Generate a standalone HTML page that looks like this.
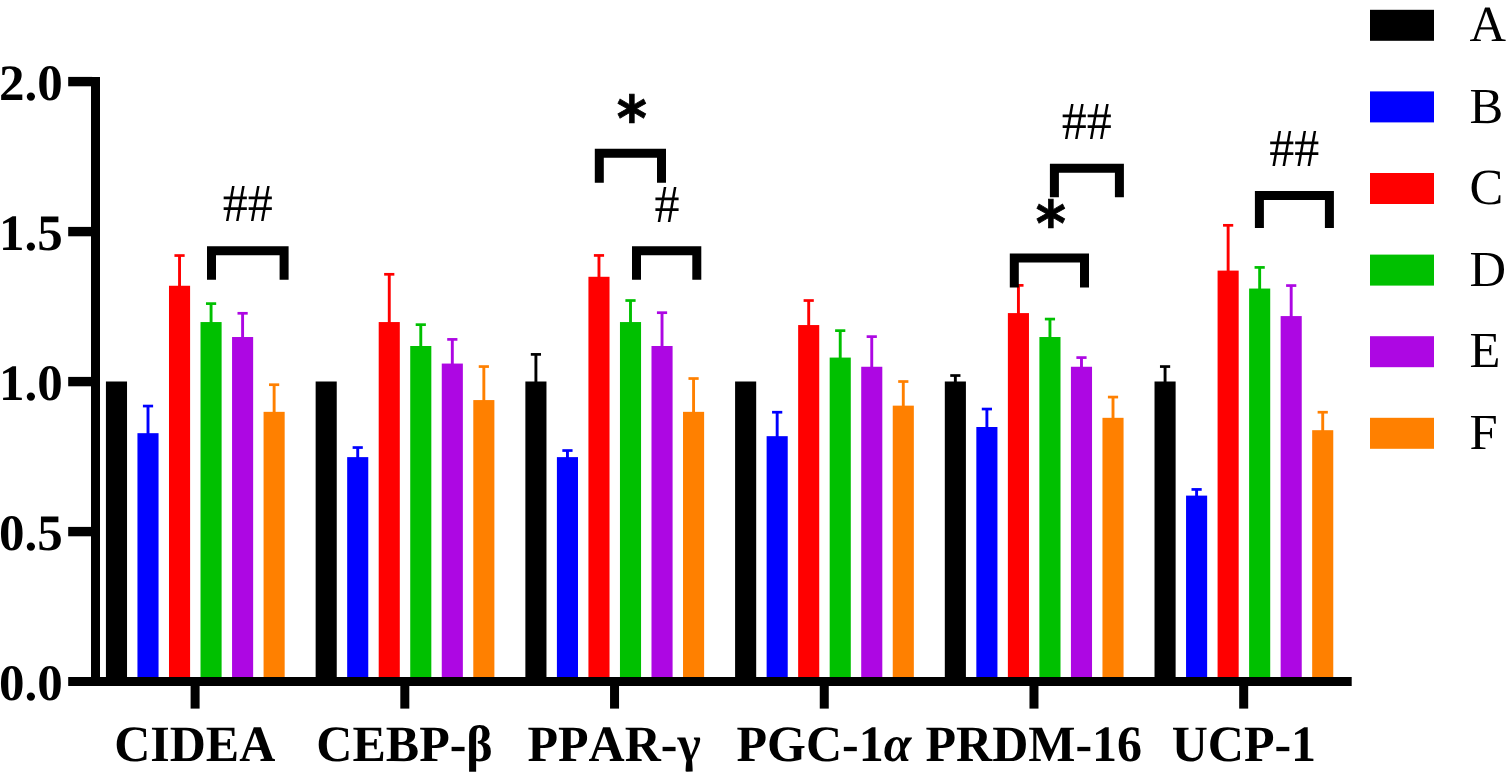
<!DOCTYPE html>
<html lang="en">
<head>
<meta charset="utf-8">
<title>Relative expression bar chart</title>
<style>
html,body{margin:0;padding:0;background:#fff;}
body{width:1506px;height:777px;overflow:hidden;}
svg{display:block;}
text{text-rendering:geometricPrecision;font-kerning:none;}
.ax{font-family:"Liberation Serif","DejaVu Serif",serif;font-weight:bold;font-size:50px;fill:#000;}
.lg{font-family:"Liberation Serif","DejaVu Serif",serif;font-weight:normal;font-size:50.6px;fill:#000;}
.hs{font-family:"Liberation Serif","DejaVu Serif",serif;font-weight:normal;font-size:50px;fill:#000;}
.st{font-family:"DejaVu Sans","Liberation Sans",sans-serif;font-weight:bold;font-size:57.6px;fill:#000;stroke:#000;stroke-width:0.76px;stroke-linejoin:miter;}
</style>
</head>
<body>
<svg width="1506" height="777" viewBox="0 0 1506 777">
<rect x="0" y="0" width="1506" height="777" fill="#ffffff"/>
<g id="bars">
<rect x="105.93" y="381.50" width="21.10" height="296.50" fill="#000000"/>
<rect x="146.56" y="406.05" width="2.90" height="28.13" fill="#0000FF"/><rect x="142.91" y="404.70" width="10.20" height="2.70" fill="#0000FF"/><rect x="137.45" y="433.18" width="21.10" height="244.82" fill="#0000FF"/>
<rect x="178.09" y="255.54" width="2.90" height="31.22" fill="#FF0000"/><rect x="174.44" y="254.19" width="10.20" height="2.70" fill="#FF0000"/><rect x="168.99" y="285.76" width="21.10" height="392.24" fill="#FF0000"/>
<rect x="209.62" y="303.61" width="2.90" height="19.45" fill="#00C000"/><rect x="205.97" y="302.26" width="10.20" height="2.70" fill="#00C000"/><rect x="200.51" y="322.06" width="21.10" height="355.94" fill="#00C000"/>
<rect x="241.15" y="313.29" width="2.90" height="24.73" fill="#AD07E3"/><rect x="237.50" y="311.94" width="10.20" height="2.70" fill="#AD07E3"/><rect x="232.05" y="337.02" width="21.10" height="340.98" fill="#AD07E3"/>
<rect x="272.68" y="384.71" width="2.90" height="28.13" fill="#FF8000"/><rect x="269.02" y="383.36" width="10.20" height="2.70" fill="#FF8000"/><rect x="263.57" y="411.84" width="21.10" height="266.16" fill="#FF8000"/>
<rect x="315.64" y="381.50" width="21.10" height="296.50" fill="#000000"/>
<rect x="356.27" y="447.54" width="2.90" height="10.58" fill="#0000FF"/><rect x="352.62" y="446.19" width="10.20" height="2.70" fill="#0000FF"/><rect x="347.17" y="457.12" width="21.10" height="220.88" fill="#0000FF"/>
<rect x="387.81" y="274.29" width="2.90" height="48.77" fill="#FF0000"/><rect x="384.15" y="272.94" width="10.20" height="2.70" fill="#FF0000"/><rect x="378.70" y="322.06" width="21.10" height="355.94" fill="#FF0000"/>
<rect x="419.33" y="324.66" width="2.90" height="22.34" fill="#00C000"/><rect x="415.68" y="323.31" width="10.20" height="2.70" fill="#00C000"/><rect x="410.23" y="346.00" width="21.10" height="332.00" fill="#00C000"/>
<rect x="450.87" y="339.40" width="2.90" height="25.16" fill="#AD07E3"/><rect x="447.21" y="338.05" width="10.20" height="2.70" fill="#AD07E3"/><rect x="441.76" y="363.56" width="21.10" height="314.44" fill="#AD07E3"/>
<rect x="482.39" y="366.56" width="2.90" height="34.51" fill="#FF8000"/><rect x="478.74" y="365.21" width="10.20" height="2.70" fill="#FF8000"/><rect x="473.29" y="400.07" width="21.10" height="277.93" fill="#FF8000"/>
<rect x="534.46" y="354.39" width="2.90" height="28.11" fill="#000000"/><rect x="530.81" y="353.04" width="10.20" height="2.70" fill="#000000"/><rect x="525.37" y="381.50" width="21.10" height="296.50" fill="#000000"/>
<rect x="566.00" y="450.53" width="2.90" height="7.59" fill="#0000FF"/><rect x="562.35" y="449.18" width="10.20" height="2.70" fill="#0000FF"/><rect x="556.90" y="457.12" width="21.10" height="220.88" fill="#0000FF"/>
<rect x="597.52" y="255.44" width="2.90" height="22.34" fill="#FF0000"/><rect x="593.88" y="254.09" width="10.20" height="2.70" fill="#FF0000"/><rect x="588.43" y="276.78" width="21.10" height="401.22" fill="#FF0000"/>
<rect x="629.05" y="300.52" width="2.90" height="22.54" fill="#00C000"/><rect x="625.40" y="299.17" width="10.20" height="2.70" fill="#00C000"/><rect x="619.96" y="322.06" width="21.10" height="355.94" fill="#00C000"/>
<rect x="660.58" y="312.69" width="2.90" height="34.31" fill="#AD07E3"/><rect x="656.93" y="311.34" width="10.20" height="2.70" fill="#AD07E3"/><rect x="651.49" y="346.00" width="21.10" height="332.00" fill="#AD07E3"/>
<rect x="692.12" y="378.52" width="2.90" height="34.32" fill="#FF8000"/><rect x="688.47" y="377.17" width="10.20" height="2.70" fill="#FF8000"/><rect x="683.02" y="411.84" width="21.10" height="266.16" fill="#FF8000"/>
<rect x="735.09" y="381.50" width="21.10" height="296.50" fill="#000000"/>
<rect x="775.72" y="412.23" width="2.90" height="24.94" fill="#0000FF"/><rect x="772.07" y="410.88" width="10.20" height="2.70" fill="#0000FF"/><rect x="766.62" y="436.17" width="21.10" height="241.83" fill="#0000FF"/>
<rect x="807.25" y="300.52" width="2.90" height="25.53" fill="#FF0000"/><rect x="803.60" y="299.17" width="10.20" height="2.70" fill="#FF0000"/><rect x="798.15" y="325.05" width="21.10" height="352.95" fill="#FF0000"/>
<rect x="838.77" y="330.64" width="2.90" height="27.94" fill="#00C000"/><rect x="835.12" y="329.29" width="10.20" height="2.70" fill="#00C000"/><rect x="829.68" y="357.58" width="21.10" height="320.42" fill="#00C000"/>
<rect x="870.30" y="336.62" width="2.90" height="31.14" fill="#AD07E3"/><rect x="866.65" y="335.27" width="10.20" height="2.70" fill="#AD07E3"/><rect x="861.21" y="366.76" width="21.10" height="311.24" fill="#AD07E3"/>
<rect x="901.84" y="381.52" width="2.90" height="25.13" fill="#FF8000"/><rect x="898.19" y="380.17" width="10.20" height="2.70" fill="#FF8000"/><rect x="892.74" y="405.65" width="21.10" height="272.35" fill="#FF8000"/>
<rect x="953.90" y="375.53" width="2.90" height="6.97" fill="#000000"/><rect x="950.25" y="374.18" width="10.20" height="2.70" fill="#000000"/><rect x="944.81" y="381.50" width="21.10" height="296.50" fill="#000000"/>
<rect x="985.44" y="409.04" width="2.90" height="18.96" fill="#0000FF"/><rect x="981.79" y="407.69" width="10.20" height="2.70" fill="#0000FF"/><rect x="976.34" y="427.00" width="21.10" height="251.00" fill="#0000FF"/>
<rect x="1016.97" y="285.36" width="2.90" height="28.73" fill="#FF0000"/><rect x="1013.32" y="284.01" width="10.20" height="2.70" fill="#FF0000"/><rect x="1007.87" y="313.09" width="21.10" height="364.91" fill="#FF0000"/>
<rect x="1048.50" y="319.07" width="2.90" height="18.95" fill="#00C000"/><rect x="1044.85" y="317.72" width="10.20" height="2.70" fill="#00C000"/><rect x="1039.40" y="337.02" width="21.10" height="340.98" fill="#00C000"/>
<rect x="1080.03" y="357.58" width="2.90" height="10.18" fill="#AD07E3"/><rect x="1076.38" y="356.23" width="10.20" height="2.70" fill="#AD07E3"/><rect x="1070.93" y="366.76" width="21.10" height="311.24" fill="#AD07E3"/>
<rect x="1111.56" y="397.07" width="2.90" height="21.75" fill="#FF8000"/><rect x="1107.91" y="395.72" width="10.20" height="2.70" fill="#FF8000"/><rect x="1102.46" y="417.82" width="21.10" height="260.18" fill="#FF8000"/>
<rect x="1163.62" y="366.56" width="2.90" height="15.94" fill="#000000"/><rect x="1159.97" y="365.21" width="10.20" height="2.70" fill="#000000"/><rect x="1154.52" y="381.50" width="21.10" height="296.50" fill="#000000"/>
<rect x="1195.15" y="489.43" width="2.90" height="7.18" fill="#0000FF"/><rect x="1191.50" y="488.08" width="10.20" height="2.70" fill="#0000FF"/><rect x="1186.05" y="495.61" width="21.10" height="182.39" fill="#0000FF"/>
<rect x="1226.68" y="225.32" width="2.90" height="46.28" fill="#FF0000"/><rect x="1223.03" y="223.97" width="10.20" height="2.70" fill="#FF0000"/><rect x="1217.58" y="270.60" width="21.10" height="407.40" fill="#FF0000"/>
<rect x="1258.21" y="267.41" width="2.90" height="22.14" fill="#00C000"/><rect x="1254.57" y="266.06" width="10.20" height="2.70" fill="#00C000"/><rect x="1249.12" y="288.55" width="21.10" height="389.45" fill="#00C000"/>
<rect x="1289.74" y="285.56" width="2.90" height="31.52" fill="#AD07E3"/><rect x="1286.10" y="284.21" width="10.20" height="2.70" fill="#AD07E3"/><rect x="1280.64" y="316.08" width="21.10" height="361.92" fill="#AD07E3"/>
<rect x="1321.27" y="412.23" width="2.90" height="18.96" fill="#FF8000"/><rect x="1317.62" y="410.88" width="10.20" height="2.70" fill="#FF8000"/><rect x="1312.17" y="430.19" width="21.10" height="247.81" fill="#FF8000"/>
</g>
<g id="axes" fill="#000">
<rect x="68.2" y="677.00" width="1283.50" height="9.00"/>
<rect x="91" y="77" width="9" height="609.00"/>
<rect x="68.2" y="526.90" width="24" height="9.4"/>
<rect x="68.2" y="376.90" width="24" height="9.4"/>
<rect x="68.2" y="226.90" width="24" height="9.4"/>
<rect x="68.2" y="76.90" width="24" height="9.4"/>
<rect x="190.60" y="685" width="9" height="23.6"/>
<rect x="400.32" y="685" width="9" height="23.6"/>
<rect x="610.04" y="685" width="9" height="23.6"/>
<rect x="819.76" y="685" width="9" height="23.6"/>
<rect x="1029.48" y="685" width="9" height="23.6"/>
<rect x="1239.20" y="685" width="9" height="23.6"/>
</g>
<g id="ylabels" class="ax" text-anchor="end" style="font-size:51px">
<text transform="translate(62.7 700.20) scale(1 1)">0.0</text>
<text transform="translate(62.7 550.20) scale(1 1)">0.5</text>
<text transform="translate(62.7 400.20) scale(1 1)">1.0</text>
<text transform="translate(62.7 250.20) scale(1 1)">1.5</text>
<text transform="translate(62.7 100.20) scale(1 1)">2.0</text>
</g>
<g id="xlabels" class="ax" text-anchor="middle">
<text transform="translate(194.70 760.85) scale(1 1.02)">CIDEA</text>
<text transform="translate(404.50 760.85) scale(1 1.02)">CEBP-β</text>
<text transform="translate(614.20 760.85) scale(1 1.02)">PPAR-γ</text>
<text transform="translate(823.90 760.85) scale(1 1.02)">PGC-1<tspan font-style="italic">α</tspan></text>
<text transform="translate(1033.80 760.85) scale(1 1.02)">PRDM-16</text>
<text transform="translate(1243.90 760.85) scale(1 1.02)">UCP-1</text>
</g>
<g id="brackets" fill="none" stroke="#000" stroke-width="9" stroke-linejoin="miter">
<path d="M211.50 279.80 V250.80 H284.10 V279.80"/>
<path d="M599.30 182.85 V153.20 H661.50 V182.85"/>
<path d="M636.50 279.80 V250.80 H696.80 V279.80"/>
<path d="M1014.30 287.60 V258.10 H1084.50 V287.60"/>
<path d="M1054.40 197.30 V168.25 H1119.40 V197.30"/>
<path d="M1259.40 228.00 V195.60 H1329.40 V228.00"/>
</g>
<g id="sig" text-anchor="middle">
<text class="hs" transform="translate(247.85 221.35) scale(1 1.07)">##</text>
<text class="hs" transform="translate(667.05 221.66) scale(1 1.07)">#</text>
<text class="hs" transform="translate(1086.75 139.00) scale(1 1.07)">##</text>
<text class="hs" transform="translate(1294.35 166.30) scale(1 1.07)">##</text>
<text class="st" transform="translate(631.90 140.30) scale(1 1.069)">*</text>
<text class="st" transform="translate(1050.90 244.60) scale(1 1.069)">*</text>
</g>
<g id="legend">
<rect x="1370" y="9.80" width="64" height="31" fill="#000000"/><text class="lg" transform="translate(1469.4 41.00) scale(1 1)">A</text>
<rect x="1370" y="91.40" width="64" height="31" fill="#0000FF"/><text class="lg" transform="translate(1469.4 122.60) scale(1 1)">B</text>
<rect x="1370" y="173.00" width="64" height="31" fill="#FF0000"/><text class="lg" transform="translate(1469.4 204.20) scale(1 1)">C</text>
<rect x="1370" y="254.60" width="64" height="31" fill="#00C000"/><text class="lg" transform="translate(1469.4 285.80) scale(1 1)">D</text>
<rect x="1370" y="336.20" width="64" height="31" fill="#AD07E3"/><text class="lg" transform="translate(1469.4 367.40) scale(1 1)">E</text>
<rect x="1370" y="417.80" width="64" height="31" fill="#FF8000"/><text class="lg" transform="translate(1469.4 449.00) scale(1 1)">F</text>
</g>
</svg>
</body>
</html>
